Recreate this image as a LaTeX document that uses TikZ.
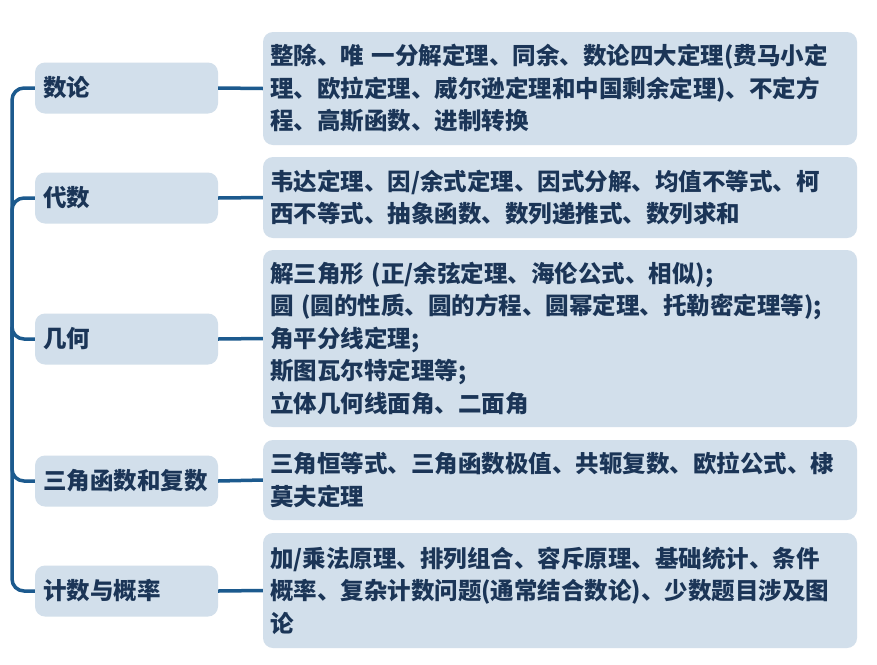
\documentclass[tikz,border=0pt]{standalone}
\usepackage{fontspec}
\newfontfamily\cjk{Noto Sans CJK SC}
\definecolor{boxfill}{HTML}{D2DFEB}
\definecolor{txt}{HTML}{1B3557}
\definecolor{linec}{HTML}{1C5A8E}
\begin{document}
\begin{tikzpicture}[x=1pt,y=-1pt,
  cat/.style={fill=boxfill, rounded corners=10pt, text=txt, font=\cjk\bfseries\fontsize{23.5}{28}\selectfont,
    minimum width=183pt, minimum height=51pt, text width=167pt, inner xsep=8pt, inner ysep=0pt, align=left},
  det/.style={fill=boxfill, rounded corners=10pt, text=txt, font=\cjk\bfseries\fontsize{23.5}{32.5}\selectfont,
    minimum width=594pt, text width=580pt, inner xsep=7pt, inner ysep=0pt, align=left},
  conn/.style={draw=linec, line width=3.5pt}]
\useasboundingbox (0,0) rectangle (877,664);
\fill[white] (0,0) rectangle (877,664);

\node[cat] (c1) at (126.5,88) {数论};
\node[cat] (c2) at (126.5,198) {代数};
\node[cat] (c3) at (126.5,339) {几何};
\node[cat] (c4) at (126.5,481) {三角函数和复数};
\node[cat] (c5) at (126.5,591) {计数与概率};

\node[det, minimum height=113pt] (d1) at (560,88.5) {整除、唯 一分解定理、同余、数论四大定理(费马小定\\理、欧拉定理、威尔逊定理和中国剩余定理)、不定方\\程、高斯函数、进制转换};
\node[det, minimum height=81pt] (d2) at (560,197.5) {韦达定理、因/余式定理、因式分解、均值不等式、柯\\西不等式、抽象函数、数列递推式、数列求和};
\node[det, minimum height=177pt] (d3) at (560,338.5) {解三角形 (正/余弦定理、海伦公式、相似);\\圆 (圆的性质、圆的方程、圆幂定理、托勒密定理等);\\角平分线定理;\\斯图瓦尔特定理等;\\立体几何线面角、二面角};
\node[det, minimum height=80pt] (d4) at (560,480) {三角恒等式、三角函数极值、共轭复数、欧拉公式、棣\\莫夫定理};
\node[det, minimum height=115pt] (d5) at (560,590.5) {加/乘法原理、排列组合、容斥原理、基础统计、条件\\概率、复杂计数问题(通常结合数论)、少数题目涉及图\\论};

\coordinate (root) at (12,339);
\foreach \i in {1,2,3,4,5} {
  \draw[conn] (c\i.east) -- (d\i.west);
  \draw[conn, rounded corners=12pt] (root) |- (c\i.west);
}
\end{tikzpicture}
\end{document}
